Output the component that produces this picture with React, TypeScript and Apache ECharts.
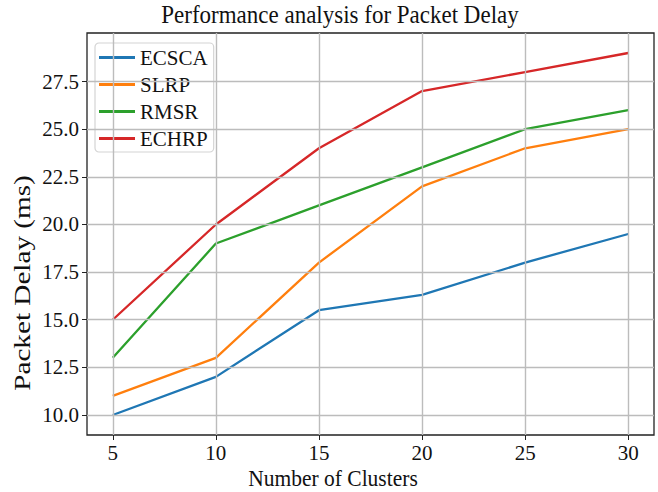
import React, { useEffect, useRef } from "react";
import * as echarts from "echarts";

const clusters = [5, 10, 15, 20, 25, 30];
const ecsca = [10, 12, 15.5, 16.3, 18, 19.5];
const slrp = [11, 13, 18, 22, 24, 25];
const rmsr = [13, 19, 21, 23, 25, 26];
const echrp = [15, 20, 24, 27, 28, 29];
const yTicks = [10, 12.5, 15, 17.5, 20, 22.5, 25, 27.5];
const xTicks = [5, 10, 15, 20, 25, 30];

const colors = ["#1f77b4", "#ff7f0e", "#2ca02c", "#d62728"];
const FONT = "Liberation Serif";

export default function App() {
  const ref = useRef<HTMLDivElement>(null);
  useEffect(() => {
    const chart = echarts.init(ref.current!, null, { renderer: "svg" });
    const mk = (name: string, vals: number[], i: number) => ({
      name,
      type: "line",
      data: clusters.map((c, k) => [c, vals[k]]),
      showSymbol: false,
      symbol: "none",
      lineStyle: { color: colors[i], width: 2.3 },
      itemStyle: { color: colors[i] },
      z: 3,
    });
    chart.setOption({
      animation: false,
      backgroundColor: "#fff",
      textStyle: { fontFamily: FONT },
      legend: {
        orient: "vertical",
        left: 95,
        top: 43,
        itemWidth: 36,
        itemHeight: 3,
        itemGap: 6,
        padding: [4, 6, 3, 4],
        backgroundColor: "rgba(255,255,255,0.85)",
        borderColor: "#d4d4d4",
        borderWidth: 1.2,
        borderRadius: 4,
        icon: "rect",
        textStyle: { fontFamily: FONT, fontSize: 21, lineHeight: 21, color: "#111" },
        data: ["ECSCA", "SLRP", "RMSR", "ECHRP"],
      },
      grid: {
        left: 87,
        right: 4,
        top: 33,
        bottom: 57,
        show: true,
        borderColor: "#222",
        borderWidth: 1.3,
        backgroundColor: "transparent",
      },
      xAxis: {
        type: "value",
        min: 3.75,
        max: 31.25,
        axisLine: { show: false },
        axisTick: { show: true, customValues: xTicks, length: 5, lineStyle: { color: "#222" } },
        axisLabel: {
          customValues: xTicks,
          fontFamily: FONT,
          fontSize: 21,
          color: "#111",
          margin: 7,
        },
        splitLine: { show: false },
      },
      yAxis: {
        type: "value",
        min: 8.95,
        max: 30.05,
        axisLine: { show: false },
        axisTick: { show: true, customValues: yTicks, length: 5, lineStyle: { color: "#222" } },
        axisLabel: {
          customValues: yTicks,
          fontFamily: FONT,
          fontSize: 21,
          color: "#111",
          margin: 8,
          formatter: (v: number) => v.toFixed(1),
        },
        splitLine: { show: false },
      },
      graphic: [
        {
          type: "text",
          x: 340,
          y: 14,
          scaleY: 1.12,
          style: {
            text: "Performance analysis for Packet Delay",
            fontFamily: FONT,
            fontSize: 23,
            fill: "#111",
            align: "center",
            verticalAlign: "middle",
          },
        },
        {
          type: "text",
          x: 333,
          y: 478,
          scaleY: 1.1,
          style: {
            text: "Number of Clusters",
            fontFamily: FONT,
            fontSize: 21.5,
            fill: "#111",
            align: "center",
            verticalAlign: "middle",
          },
        },
        {
          type: "text",
          x: 23,
          y: 283,
          rotation: Math.PI / 2,
          scaleX: 1.27,
          style: {
            text: "Packet Delay (ms)",
            fontFamily: FONT,
            fontSize: 23,
            fill: "#111",
            align: "center",
            verticalAlign: "middle",
          },
        },
      ],
      series: [
        {
          name: "grid",
          type: "line",
          data: [],
          silent: true,
          z: 1,
          markLine: {
            silent: true,
            symbol: "none",
            label: { show: false },
            lineStyle: { color: "#bcbcbc", width: 1.4, type: "solid" },
            data: [
              ...yTicks.map((v) => ({ yAxis: v })),
              ...xTicks.map((v) => ({ xAxis: v })),
            ],
          },
        },
        mk("ECSCA", ecsca, 0),
        mk("SLRP", slrp, 1),
        mk("RMSR", rmsr, 2),
        mk("ECHRP", echrp, 3),
      ],
    });
    return () => chart.dispose();
  }, []);
  return <div ref={ref} style={{ width: 658, height: 492, position: "absolute", left: 0, top: 0 }} />;
}
